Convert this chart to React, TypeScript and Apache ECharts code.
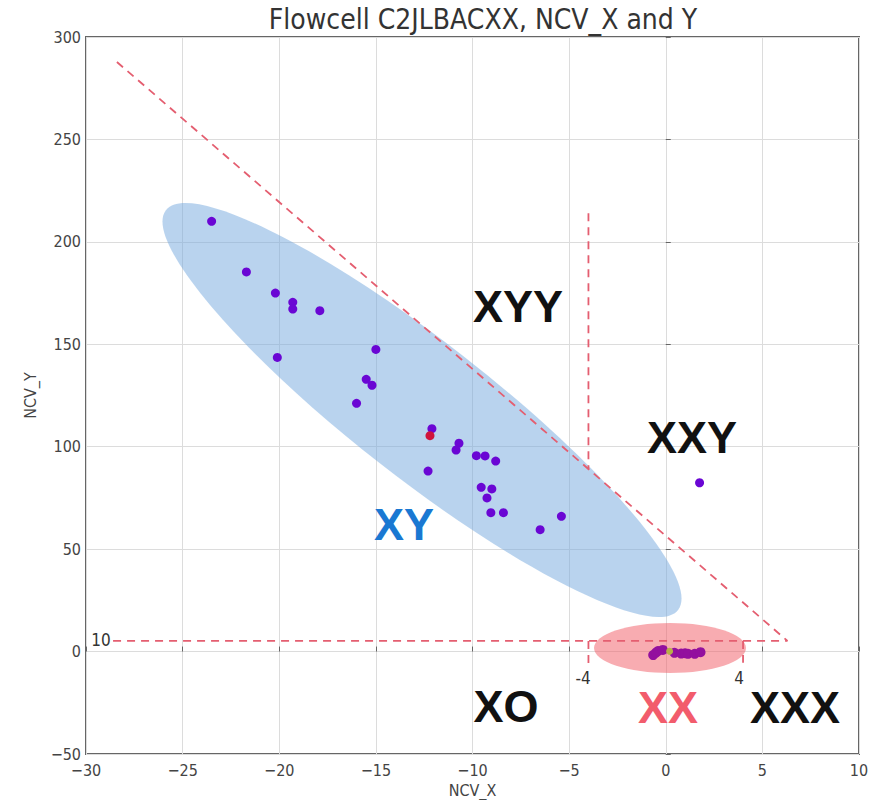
import React, { useEffect, useRef } from "react";
import * as echarts from "echarts";

const title = "Flowcell C2JLBACXX, NCV_X and Y";
const xTicks = { min: -30, max: 10, step: 5 };
const yTicks = { min: -50, max: 300, step: 50 };

const purplePoints: number[][] = [
  [-23.5, 210], [-21.7, 185.3], [-20.2, 175], [-19.3, 170.5], [-19.3, 167.2],
  [-17.9, 166.4], [-20.1, 143.6], [-15.0, 147.5], [-15.5, 132.9], [-15.2, 130],
  [-16.0, 121.2], [-12.1, 108.8], [-10.7, 101.7], [-10.85, 98.4], [-9.8, 95.6],
  [-9.35, 95.5], [-8.8, 93], [-12.3, 88.1], [-9.55, 80.2], [-9.0, 79.4],
  [-9.25, 75], [-9.05, 67.8], [-8.4, 67.8], [-5.4, 66], [-6.5, 59.5], [1.75, 82.4],
];
const redPoints: number[][] = [[-12.2, 105.4]];
const xxPoints: number[][] = [
  [-0.65, -1.7], [-0.5, -0.5], [-0.4, 0.3], [-0.15, 0.8], [0.45, -0.6],
  [0.8, -1], [1.0, -0.8], [1.15, -1.1], [1.5, -1.1], [1.8, -0.3],
];
const yellowPoints: number[][] = [[0.2, 0.2]];

const diagonalLine: number[][] = [[-28.4, 287.8], [6.3, 5.2]];
const horizontalLine: number[][] = [[-28.6, 5.2], [6.3, 5.2]];
const verticalLine: number[][] = [[-4, 214], [-4, 89]];
const tickLeft: number[][] = [[-4, 5.2], [-4, -7.5]];
const tickRight: number[][] = [[4, 5.2], [4, -5.5]];

const regionLabels = [
  { text: "XYY", color: "#111", x: 518, y: 306 },
  { text: "XXY", color: "#111", x: 692, y: 437 },
  { text: "XY", color: "#1a78d2", x: 404, y: 524 },
  { text: "XO", color: "#111", x: 506, y: 706 },
  { text: "XX", color: "#f25c6c", x: 668, y: 707 },
  { text: "XXX", color: "#111", x: 795, y: 707 },
];
const smallLabels = [
  { text: "10", x: 101, y: 640 },
  { text: "-4", x: 583, y: 678 },
  { text: "4", x: 739, y: 678 },
];

const FONT = "'DejaVu Sans Condensed', 'DejaVu Sans', sans-serif";
const minus = (v: number) => String(v).replace("-", "\u2212");

const dashed = (data: number[][]) => ({
  type: "line",
  data,
  symbol: "none",
  silent: true,
  z: 4,
  lineStyle: { color: "#e45e70", width: 1.8, type: [8, 6] },
});

export default function App() {
  const ref = useRef<HTMLDivElement>(null);
  useEffect(() => {
    if (!ref.current) return;
    const chart = echarts.init(ref.current, null, { renderer: "svg" });
    chart.setOption({
      animation: false,
      backgroundColor: "#fff",
      title: {
        text: title,
        left: 478,
        top: 0,
        textAlign: "center",
        textStyle: { fontFamily: FONT, fontSize: 28, fontWeight: "normal", color: "#333" },
      },
      grid: {
        left: 86, width: 773, top: 37, height: 717,
        outerBoundsMode: "none", containLabel: false,
        show: true, borderColor: "#666", borderWidth: 2, backgroundColor: "transparent",
      },
      xAxis: {
        type: "value",
        min: xTicks.min, max: xTicks.max, interval: xTicks.step,
        name: "NCV_X", nameLocation: "middle", nameGap: 26,
        nameTextStyle: { fontFamily: FONT, fontSize: 16, color: "#444" },
        axisLine: { show: false },
        axisTick: { inside: true, length: 5, lineStyle: { color: "#666" } },
        axisLabel: { formatter: minus, fontFamily: FONT, fontSize: 16, color: "#444", margin: 8 },
        splitLine: { show: true, lineStyle: { color: "#dcdcdc", width: 1 } },
      },
      yAxis: {
        type: "value",
        min: yTicks.min, max: yTicks.max, interval: yTicks.step,
        name: "NCV_Y", nameLocation: "middle", nameGap: 48, nameRotate: 90,
        nameTextStyle: { fontFamily: FONT, fontSize: 16, color: "#444" },
        axisLine: { show: false },
        axisTick: { inside: true, length: 5, lineStyle: { color: "#666" } },
        axisLabel: { formatter: minus, fontFamily: FONT, fontSize: 16, color: "#444", margin: 5 },
        splitLine: { show: true, lineStyle: { color: "#dcdcdc", width: 1 } },
      },
      graphic: [
        {
          type: "ellipse", x: 422, y: 410, rotation: -0.663, z: 1, silent: true,
          shape: { cx: 0, cy: 0, rx: 325, ry: 68 },
          style: { fill: "rgba(120,170,222,0.52)" },
        },
        {
          type: "ellipse", z: 1, silent: true,
          shape: { cx: 670, cy: 648, rx: 76, ry: 25 },
          style: { fill: "rgba(242,90,100,0.5)" },
        },
        ...regionLabels.map((l) => ({
          type: "text", z: 10, x: l.x, y: l.y, silent: true,
          style: {
            text: l.text, fill: l.color, fontSize: 45, fontWeight: "bold",
            fontFamily: "'Liberation Sans', Arial, sans-serif",
            align: "center", verticalAlign: "middle",
          },
        })),
        ...smallLabels.map((l) => ({
          type: "text", z: 10, x: l.x, y: l.y, silent: true,
          style: {
            text: l.text, fill: "#333", fontSize: 17,
            fontFamily: FONT, align: "center", verticalAlign: "middle",
          },
        })),
      ],
      series: [
        dashed(diagonalLine),
        dashed(horizontalLine),
        dashed(verticalLine),
        dashed(tickLeft),
        dashed(tickRight),
        {
          type: "scatter", data: purplePoints, symbolSize: 9, z: 5,
          itemStyle: { color: "#6a06d4", opacity: 1 },
        },
        {
          type: "scatter", data: redPoints, symbolSize: 9, z: 5,
          itemStyle: { color: "#d0143c", opacity: 1 },
        },
        {
          type: "scatter", data: xxPoints, symbolSize: 10, z: 5,
          itemStyle: { color: "#93109e", opacity: 1 },
        },
        {
          type: "scatter", data: yellowPoints, symbolSize: 7, z: 6,
          itemStyle: { color: "#b8b048", opacity: 1 },
        },
      ],
    });
    return () => chart.dispose();
  }, []);
  return (
    <div
      ref={ref}
      style={{ position: "absolute", left: 0, top: 0, width: 888, height: 800 }}
    />
  );
}
